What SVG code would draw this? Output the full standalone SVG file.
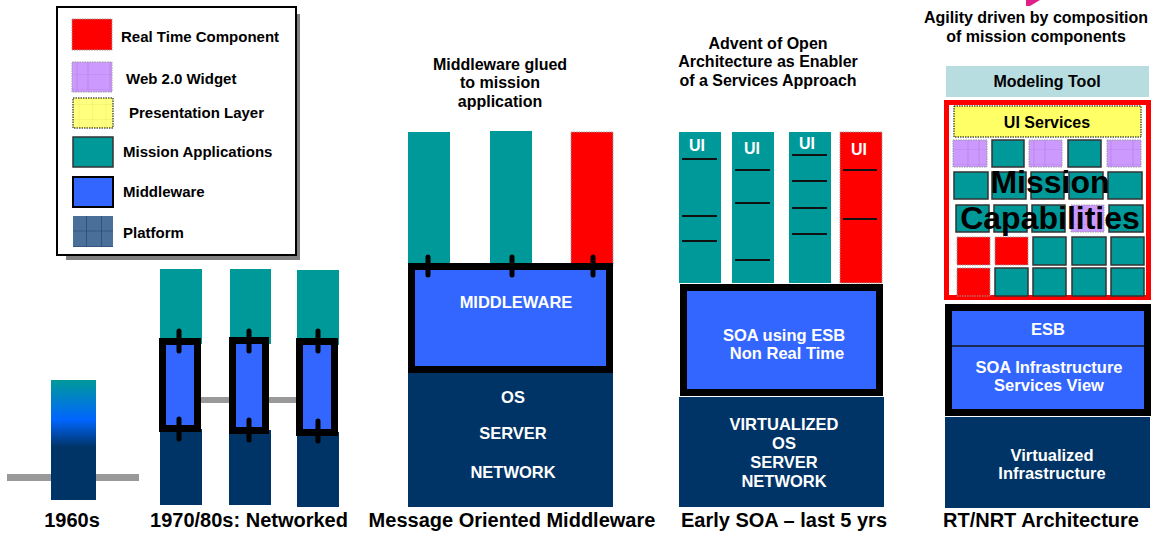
<svg xmlns="http://www.w3.org/2000/svg" width="1164" height="533" viewBox="0 0 1164 533">
  <style>
    text { font-family: "Liberation Sans", Arial, sans-serif; font-weight: bold; }
    .lg { font-size: 15px; fill: #000; }
    .ttl { font-size: 16px; fill: #000; text-anchor: middle; }
    .era { font-size: 20px; fill: #000; text-anchor: middle; }
    .wt { font-size: 16.5px; fill: #fff; text-anchor: middle; }
    .ui { font-size: 16px; fill: #fff; text-anchor: middle; }
    .teal { fill: #009999; }
    .navy { fill: #003366; }
    .mw { fill: #3366ff; stroke: #000; stroke-width: 7; }
    .rt { fill: #ff0000; stroke: #999; stroke-width: 1; stroke-dasharray: 1.5 1; }
    .stub { stroke: #000; stroke-width: 5; stroke-linecap: round; }
    .sep { stroke: #111; stroke-width: 2; }
    .tt { fill: #009999; stroke: #333; stroke-width: 1.5; }
    .tp { fill: url(#widget); stroke: #999; stroke-width: 1; stroke-dasharray: 1.5 1; }
    .tr { fill: #ff0000; stroke: #999; stroke-width: 1; stroke-dasharray: 1.5 1; }
    .bar { fill: #999999; }
  </style>
  <defs>
    <pattern id="widget" width="33" height="15" patternUnits="userSpaceOnUse">
      <rect width="33" height="15" fill="#cc99ff"/>
      <path d="M11 0V15M22 0V15M0 15H33" stroke="#bb88ee" stroke-width="1"/>
    </pattern>
    <pattern id="present" width="13.3" height="15" patternUnits="userSpaceOnUse">
      <rect width="13.3" height="15" fill="#ffff80"/>
      <path d="M13.3 0V15M0 15H13.3" stroke="#eeee66" stroke-width="1"/>
    </pattern>
    <pattern id="platform" width="15" height="15.5" patternUnits="userSpaceOnUse" x="72" y="216">
      <rect width="15" height="15.5" fill="#4a6f98"/>
      <path d="M15 0V15.5M0 15.5H15" stroke="#1f3f6a" stroke-width="1.2"/>
    </pattern>
    <linearGradient id="mainframe" x1="0" y1="0" x2="0" y2="1">
      <stop offset="0" stop-color="#009999"/>
      <stop offset="0.33" stop-color="#0066ff"/>
      <stop offset="0.56" stop-color="#003366"/>
      <stop offset="1" stop-color="#003366"/>
    </linearGradient>
  </defs>

  <rect width="1164" height="533" fill="#ffffff"/>

  <!-- legend -->
  <g id="legend">
    <rect x="66" y="14" width="234" height="246" fill="#808080"/>
    <rect x="57" y="7" width="239" height="248" fill="#ffffff" stroke="#000" stroke-width="2"/>
    <rect x="72" y="19" width="40" height="31" class="rt"/>
    <text class="lg" x="121" y="42">Real Time Component</text>
    <rect x="72" y="62" width="40" height="30" fill="url(#widget)" stroke="#999" stroke-width="1" stroke-dasharray="1.5 1"/>
    <text class="lg" x="126" y="84">Web 2.0 Widget</text>
    <rect x="73" y="98" width="40" height="30" fill="url(#present)" stroke="#000" stroke-width="1" stroke-dasharray="1.5 1"/>
    <text class="lg" x="129" y="118">Presentation Layer</text>
    <rect x="73" y="137" width="40" height="30" class="tt"/>
    <text class="lg" x="123" y="157">Mission Applications</text>
    <rect x="73" y="177" width="40" height="30" fill="#3366ff" stroke="#000" stroke-width="2"/>
    <text class="lg" x="123" y="197">Middleware</text>
    <rect x="73" y="216" width="40" height="31" fill="url(#platform)"/>
    <text class="lg" x="123" y="238">Platform</text>
  </g>

  <!-- 1960s: single mainframe -->
  <g id="era-1960s">
    <rect class="bar" x="7" y="474" width="132" height="7"/>
    <rect x="51" y="380" width="45" height="120" fill="url(#mainframe)"/>
    <text class="era" x="72" y="527">1960s</text>
  </g>

  <!-- 1970/80s: networked systems -->
  <g id="era-1970s">
    <rect class="bar" x="195" y="397" width="105" height="6"/>
    <rect class="teal" x="160" y="269" width="42" height="75"/>
    <rect class="teal" x="230" y="269" width="41" height="75"/>
    <rect class="teal" x="297" y="270" width="42" height="75"/>
    <rect class="navy" x="160" y="429" width="42" height="76"/>
    <rect class="navy" x="229" y="430" width="42" height="75"/>
    <rect class="navy" x="297" y="432" width="42" height="75"/>
    <rect class="mw" x="162.5" y="341.5" width="35" height="87"/>
    <rect class="mw" x="232.5" y="340.5" width="33" height="90"/>
    <rect class="mw" x="299.5" y="341.5" width="35" height="91"/>
    <line class="stub" x1="179" y1="331" x2="179" y2="351"/>
    <line class="stub" x1="179" y1="419" x2="179" y2="439"/>
    <line class="stub" x1="249" y1="331" x2="249" y2="351"/>
    <line class="stub" x1="249" y1="420" x2="249" y2="440"/>
    <line class="stub" x1="318" y1="331" x2="318" y2="351"/>
    <line class="stub" x1="318" y1="421" x2="318" y2="441"/>
    <text class="era" x="249" y="527">1970/80s: Networked</text>
  </g>

  <!-- message oriented middleware -->
  <g id="era-mom">
    <text class="ttl" x="500" y="70">Middleware glued</text>
    <text class="ttl" x="500" y="88">to mission</text>
    <text class="ttl" x="500" y="107">application</text>
    <rect class="teal" x="408" y="132" width="42" height="134"/>
    <rect class="teal" x="490" y="131" width="42" height="135"/>
    <rect class="rt" x="571" y="132" width="42" height="134"/>
    <rect class="navy" x="408" y="373" width="205" height="134"/>
    <rect class="mw" x="411.5" y="266.5" width="198" height="103"/>
    <line class="stub" x1="428" y1="257" x2="428" y2="275"/>
    <line class="stub" x1="512" y1="257" x2="512" y2="275"/>
    <line class="stub" x1="593" y1="257" x2="593" y2="275"/>
    <text class="wt" x="516" y="308">MIDDLEWARE</text>
    <text class="wt" x="513" y="403">OS</text>
    <text class="wt" x="513" y="439">SERVER</text>
    <text class="wt" x="513" y="478">NETWORK</text>
    <text class="era" x="512" y="527">Message Oriented Middleware</text>
  </g>

  <!-- early SOA -->
  <g id="era-soa">
    <text class="ttl" x="768" y="49">Advent of Open</text>
    <text class="ttl" x="768" y="67">Architecture as Enabler</text>
    <text class="ttl" x="768" y="86">of a Services Approach</text>
    <rect class="teal" x="679" y="132" width="42" height="151"/>
    <rect class="teal" x="732" y="132" width="42" height="151"/>
    <rect class="teal" x="789" y="132" width="42" height="151"/>
    <rect class="rt" x="840" y="132" width="42" height="151"/>
    <text class="ui" x="697" y="151">UI</text>
    <text class="ui" x="752" y="154">UI</text>
    <text class="ui" x="807" y="149">UI</text>
    <text class="ui" x="859" y="155">UI</text>
    <line class="sep" x1="682" y1="159" x2="717" y2="159"/>
    <line class="sep" x1="682" y1="216" x2="717" y2="216"/>
    <line class="sep" x1="682" y1="241" x2="717" y2="241"/>
    <line class="sep" x1="735" y1="170" x2="770" y2="170"/>
    <line class="sep" x1="735" y1="203" x2="770" y2="203"/>
    <line class="sep" x1="735" y1="260" x2="770" y2="260"/>
    <line class="sep" x1="792" y1="155" x2="827" y2="155"/>
    <line class="sep" x1="792" y1="181" x2="827" y2="181"/>
    <line class="sep" x1="792" y1="208" x2="827" y2="208"/>
    <line class="sep" x1="792" y1="234" x2="827" y2="234"/>
    <line class="sep" x1="843" y1="170" x2="877" y2="170"/>
    <line class="sep" x1="843" y1="219" x2="877" y2="219"/>
    <rect class="mw" x="683.5" y="287.5" width="196" height="105"/>
    <text class="wt" x="784" y="341">SOA using ESB</text>
    <text class="wt" x="787" y="359">Non Real Time</text>
    <rect class="navy" x="679" y="397" width="205" height="110"/>
    <text class="wt" x="784" y="430">VIRTUALIZED</text>
    <text class="wt" x="784" y="449">OS</text>
    <text class="wt" x="784" y="468">SERVER</text>
    <text class="wt" x="784" y="487">NETWORK</text>
    <text class="era" x="784" y="527">Early SOA – last 5 yrs</text>
  </g>

  <!-- RT/NRT architecture -->
  <g id="era-rtnrt">
    <polygon points="1026,0 1040,0 1030,6 1026,6" fill="#e0208a"/>
    <text class="ttl" x="1036" y="23">Agility driven by composition</text>
    <text class="ttl" x="1036" y="42">of mission components</text>
    <rect x="946" y="66" width="203" height="31" fill="#b7dde0"/>
    <text class="ttl" x="1047" y="87">Modeling Tool</text>
    <rect x="946.5" y="102.5" width="202" height="195" fill="#ffffff" stroke="#ff0000" stroke-width="5"/>
    <rect x="954" y="106" width="187" height="31" fill="#ffff66" stroke="#000" stroke-width="1" stroke-dasharray="1.5 1"/>
    <text class="ttl" x="1047" y="128">UI Services</text>
    <!-- row 1 -->
    <rect class="tp" x="953" y="140" width="34" height="27"/>
    <rect class="tt" x="992" y="140" width="32" height="27"/>
    <rect class="tp" x="1029" y="140" width="33" height="27"/>
    <rect class="tt" x="1068" y="140" width="33" height="27"/>
    <rect class="tp" x="1107" y="140" width="34" height="27"/>
    <!-- row 2 -->
    <rect class="tt" x="954" y="172" width="34" height="27"/>
    <rect class="tt" x="992" y="172" width="34" height="27"/>
    <rect class="tt" x="1031" y="172" width="33" height="27"/>
    <rect class="tt" x="1069" y="172" width="34" height="27"/>
    <rect class="tt" x="1108" y="172" width="34" height="27"/>
    <!-- row 3 -->
    <rect class="tt" x="956" y="205" width="33" height="27"/>
    <rect class="tt" x="994" y="205" width="33" height="27"/>
    <rect class="tt" x="1032" y="205" width="33" height="27"/>
    <rect class="tp" x="1071" y="205" width="33" height="27"/>
    <rect class="tt" x="1109" y="205" width="34" height="27"/>
    <!-- row 4 -->
    <rect class="tr" x="957" y="237" width="33" height="28"/>
    <rect class="tr" x="995" y="237" width="33" height="28"/>
    <rect class="tt" x="1033" y="237" width="33" height="28"/>
    <rect class="tt" x="1072" y="237" width="34" height="28"/>
    <rect class="tt" x="1111" y="237" width="33" height="28"/>
    <!-- row 5 -->
    <rect class="tr" x="957" y="268" width="33" height="28"/>
    <rect class="tt" x="995" y="268" width="33" height="28"/>
    <rect class="tt" x="1033" y="268" width="33" height="28"/>
    <rect class="tt" x="1072" y="268" width="34" height="28"/>
    <rect class="tt" x="1111" y="268" width="33" height="28"/>
    <text x="1050" y="193" font-size="32" text-anchor="middle" fill="#000">Mission</text>
    <text x="1050" y="229" font-size="32" text-anchor="middle" fill="#000">Capabilities</text>
    <rect class="mw" x="948.5" y="307.5" width="199" height="105"/>
    <line x1="952" y1="346" x2="1144" y2="346" stroke="#1a2a55" stroke-width="2"/>
    <text class="wt" x="1048" y="335">ESB</text>
    <text class="wt" x="1049" y="373">SOA Infrastructure</text>
    <text class="wt" x="1049" y="391">Services View</text>
    <rect class="navy" x="945" y="417" width="205" height="91"/>
    <text class="wt" x="1052" y="461">Virtualized</text>
    <text class="wt" x="1052" y="479">Infrastructure</text>
    <text class="era" x="1041" y="527">RT/NRT Architecture</text>
  </g>
</svg>
